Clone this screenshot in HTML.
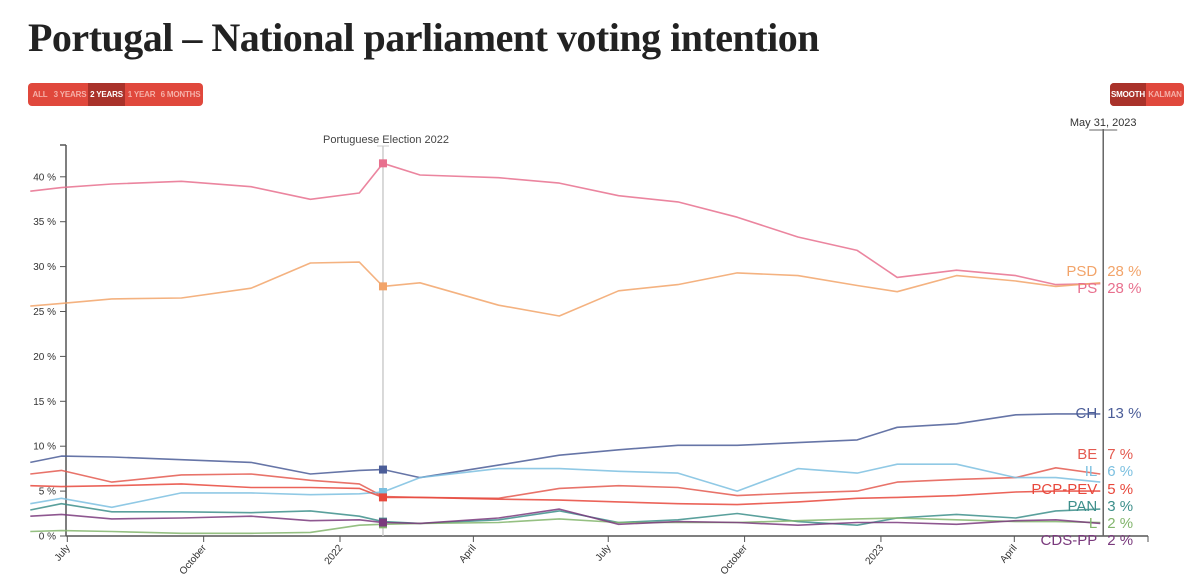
<!DOCTYPE html>
<html><head><meta charset="utf-8">
<style>
body{margin:0;background:#fff;width:1200px;height:576px;overflow:hidden;font-family:"Liberation Sans",sans-serif}
h1{position:absolute;left:28px;top:14px;margin:0;font-family:"Liberation Serif",serif;font-weight:bold;font-size:40px;color:#222;letter-spacing:-0.5px;white-space:nowrap}
.btns{position:absolute;display:flex;background:#e0483c;border-radius:4px;overflow:hidden;height:23px}
.btns div{flex:0 0 auto;white-space:nowrap;text-align:center;font-family:"Liberation Sans Narrow","Liberation Sans",sans-serif;font-size:8px;font-weight:bold;color:#f5b0a8;line-height:23px;letter-spacing:-0.2px}
.btns div.on{background:#a9322a;color:#fff}
</style></head><body>
<h1>Portugal – National parliament voting intention</h1>
<div class="btns" style="left:28px;top:83px;width:175px">
<div style="width:24px">ALL</div>
<div style="width:36px">3 YEARS</div>
<div class="on" style="width:37px">2 YEARS</div>
<div style="width:33px">1 YEAR</div>
<div style="width:45px">6 MONTHS</div>
</div>
<div class="btns" style="left:1110px;top:83px;width:74px">
<div class="on" style="width:36px">SMOOTH</div>
<div style="width:38px">KALMAN</div>
</div>
<svg id="chart" width="1200" height="576" style="position:absolute;left:0;top:0"></svg>
<script>
const dates=["2021-06-06","2021-06-27","2021-07-31","2021-09-16","2021-11-02","2021-12-12","2022-01-14","2022-01-30","2022-02-24","2022-04-18","2022-05-29","2022-07-08","2022-08-17","2022-09-26","2022-11-06","2022-12-16","2023-01-12","2023-02-21","2023-04-02","2023-04-29","2023-05-29"];
const parties=["PS","PSD","CH","BE","IL","PCP-PEV","PAN","L","CDS-PP"];
const PS=[38.4,38.8,39.2,39.5,38.9,37.5,38.2,41.5,40.2,39.9,39.3,37.9,37.2,35.5,33.3,31.8,28.8,29.6,29.0,28.0,28.1];
const PSD=[25.6,25.9,26.4,26.5,27.6,30.4,30.5,27.8,28.2,25.7,24.5,27.3,28.0,29.3,29.0,27.9,27.2,29.0,28.4,27.8,28.2];
const CH=[8.2,8.9,8.8,8.5,8.2,6.9,7.3,7.4,6.5,7.9,9.0,9.6,10.1,10.1,10.4,10.7,12.1,12.5,13.5,13.6,13.6];
const BE=[6.9,7.3,6.0,6.8,6.9,6.2,5.8,4.4,4.3,4.2,5.3,5.6,5.4,4.5,4.8,5.0,6.0,6.3,6.5,7.6,6.9];
const IL=[3.6,4.2,3.2,4.8,4.8,4.6,4.7,4.9,6.5,7.5,7.5,7.2,7.0,5.0,7.5,7.0,8.0,8.0,6.5,6.5,6.0];
const PCP=[5.6,5.5,5.6,5.8,5.4,5.4,5.3,4.3,4.3,4.1,4.0,3.8,3.6,3.5,3.8,4.2,4.3,4.5,4.9,5.0,5.0];
const PAN=[2.9,3.6,2.7,2.7,2.6,2.8,2.2,1.6,1.4,1.8,2.8,1.5,1.8,2.5,1.6,1.2,2.0,2.4,2.0,2.8,3.0];
const L=[0.5,0.6,0.5,0.3,0.3,0.4,1.2,1.3,1.4,1.5,1.9,1.5,1.5,1.5,1.7,1.9,2.0,1.8,1.6,1.6,1.5];
const CDS=[2.2,2.4,1.9,2.0,2.2,1.7,1.8,1.5,1.4,2.0,3.0,1.3,1.6,1.5,1.2,1.5,1.5,1.3,1.7,1.8,1.4];
const finalLabels=["28 %","28 %","13 %","7 %","6 %","5 %","3 %","2 %","2 %"];
const yTicks=[0,5,10,15,20,25,30,35,40];
const xTickDates=["2021-07-01","2021-10-01","2022-01-01","2022-04-01","2022-07-01","2022-10-01","2023-01-01","2023-04-01"];
const xTickLabels=["July","October","2022","April","July","October","2023","April"];
const electionDate="2022-01-30";
const cursorDate="2023-05-31";

const NS="http://www.w3.org/2000/svg";
const svg=document.getElementById('chart');
const base=Date.UTC(2022,0,1);
function x(d){return 340+(Date.parse(d)-base)/864e5*1.482;}
function y(v){return 536-v*8.98;}
function mk(t,a,p){const e=document.createElementNS(NS,t);for(const k in a)e.setAttribute(k,a[k]);(p||svg).appendChild(e);return e;}
const series=[PS,PSD,CH,BE,IL,PCP,PAN,L,CDS];
const colors=["#e8708e","#f2a46a","#4b5d98","#e45a50","#7cc0e0","#e8483c","#3d8f8b","#82b56c","#7a3a7d"];
const labelY=[288,271,413,454,471,489,506,523,540];

const ax=mk('g',{});


mk('line',{x1:66,y1:145,x2:66,y2:536,stroke:'#555','stroke-width':1.5},ax);
mk('line',{x1:60,y1:145,x2:66,y2:145,stroke:'#555','stroke-width':1.5},ax);
yTicks.forEach(v=>{
 mk('line',{x1:60,y1:y(v),x2:66,y2:y(v),stroke:'#555'},ax);
 const t=mk('text',{x:56,y:y(v)+3.5,'text-anchor':'end','font-size':10,fill:'#333'},ax);
 t.textContent=v+' %';
 
 
});
const xa=mk('g',{});


mk('line',{x1:66,y1:536,x2:1148,y2:536,stroke:'#555','stroke-width':1.5},xa);
mk('line',{x1:1148,y1:536,x2:1148,y2:542,stroke:'#555'},xa);
xTickDates.forEach((d,i)=>{
 const xx=x(d);
 mk('line',{x1:xx,y1:536,x2:xx,y2:542,stroke:'#555'},xa);
 const t=mk('text',{x:xx+3,y:548,'text-anchor':'end','font-size':10,fill:'#333',transform:`rotate(-50 ${xx+3} 548)`},xa);
 t.textContent=xTickLabels[i];
 
 
});
const ex=x(electionDate);
const el=mk('line',{x1:ex,y1:146,x2:ex,y2:536,stroke:'#ccc','stroke-width':1.5});


mk('line',{x1:ex-6,y1:146,x2:ex+6,y2:146,stroke:'#ccc'});
const et=mk('text',{x:ex+3,y:143,'text-anchor':'middle','font-size':11,fill:'#444'});
et.textContent='Portuguese Election 2022';


series.forEach((s,i)=>{
 let d='';
 s.forEach((v,j)=>{d+=(j?'L':'M')+x(dates[j]).toFixed(1)+','+y(v).toFixed(1);});
 const p=mk('path',{d:d,fill:'none',stroke:colors[i],'stroke-width':1.6,opacity:0.85,'stroke-linejoin':'round'});
 
 
 const ei=dates.indexOf(electionDate);
 const m=mk('rect',{x:ex-4,y:y(s[ei])-4,width:8,height:8,fill:colors[i]});
 
 
});
const cx=x(cursorDate);
const cl=mk('line',{x1:cx,y1:129,x2:cx,y2:536,stroke:'#666','stroke-width':1.5});


mk('line',{x1:cx-14,y1:130,x2:cx+14,y2:130,stroke:'#666'});
const ct=mk('text',{x:cx,y:126,'text-anchor':'middle','font-size':11,fill:'#333'});
ct.textContent='May 31, 2023';


parties.forEach((p,i)=>{
 const t=mk('text',{x:cx-6,y:labelY[i]+5,'text-anchor':'end','font-size':15,fill:colors[i]});
 t.textContent=p;
 
 
 const v=mk('text',{x:cx+4,y:labelY[i]+5,'font-size':15,fill:colors[i]});
 v.textContent=finalLabels[i];
 
 
});
</script>
</body></html>
